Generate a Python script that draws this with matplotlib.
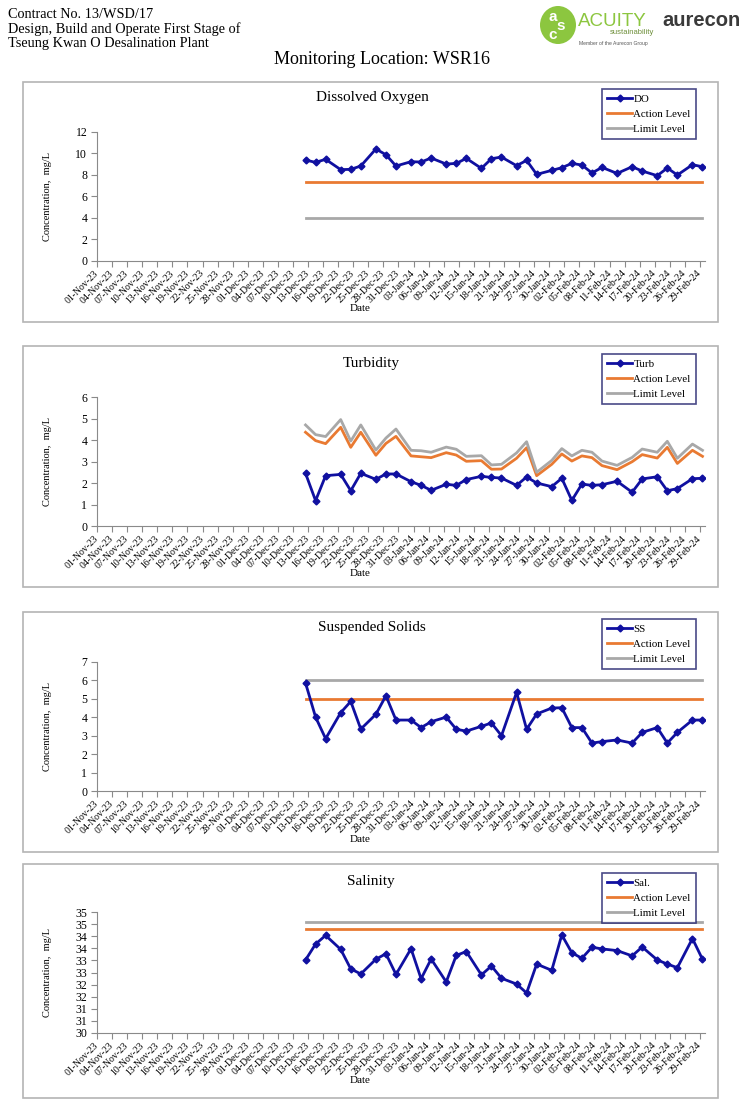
import numpy as np
import pandas as pd
import matplotlib
matplotlib.use("Agg")
import matplotlib.pyplot as plt
from matplotlib.patches import Rectangle, Ellipse

plt.rcParams['font.family'] = ['Liberation Serif', 'DejaVu Serif']

# ---------------------------------------------------------------- data
sample_dates = [
    "2023-12-12", "2023-12-14", "2023-12-16", "2023-12-19", "2023-12-21", "2023-12-23",
    "2023-12-26", "2023-12-28", "2023-12-30",
    "2024-01-02", "2024-01-04", "2024-01-06", "2024-01-09", "2024-01-11", "2024-01-13",
    "2024-01-16", "2024-01-18", "2024-01-20", "2024-01-23", "2024-01-25", "2024-01-27",
    "2024-01-30",
    "2024-02-01", "2024-02-03", "2024-02-05", "2024-02-07", "2024-02-09", "2024-02-12",
    "2024-02-15", "2024-02-17", "2024-02-20", "2024-02-22", "2024-02-24", "2024-02-27",
    "2024-02-29",
]

do_vals = [9.36, 9.15, 9.43, 8.47, 8.50, 8.81, 10.39, 9.86, 8.81, 9.21, 9.18, 9.55,
           8.99, 9.05, 9.52, 8.59, 9.49, 9.64, 8.84, 9.33, 8.03, 8.40, 8.65, 9.05,
           8.90, 8.16, 8.68, 8.12, 8.74, 8.34, 7.91, 8.62, 7.97, 8.93, 8.74]
do_action = 7.3
do_limit = 4.0

turb_vals = [2.45, 1.18, 2.34, 2.40, 1.64, 2.45, 2.17, 2.42, 2.42, 2.06, 1.89, 1.66,
             1.94, 1.89, 2.16, 2.31, 2.26, 2.23, 1.89, 2.28, 2.00, 1.83, 2.22, 1.19,
             1.95, 1.89, 1.92, 2.08, 1.57, 2.19, 2.29, 1.64, 1.74, 2.20, 2.22]
turb_action = [4.36, 3.97, 3.83, 4.59, 3.66, 4.36, 3.29, 3.84, 4.17, 3.26, 3.22, 3.18,
               3.41, 3.30, 3.01, 3.04, 2.64, 2.65, 3.15, 3.64, 2.34, 2.87, 3.35, 3.02,
               3.26, 3.18, 2.81, 2.62, 2.99, 3.32, 3.16, 3.66, 2.91, 3.52, 3.24]
turb_limit = [4.70, 4.25, 4.16, 4.95, 3.95, 4.70, 3.53, 4.09, 4.51, 3.52, 3.50, 3.43,
              3.67, 3.57, 3.24, 3.27, 2.84, 2.87, 3.40, 3.92, 2.50, 3.05, 3.60, 3.26,
              3.52, 3.43, 3.02, 2.82, 3.19, 3.58, 3.43, 3.94, 3.15, 3.81, 3.52]

ss_vals = [5.86, 4.01, 2.84, 4.25, 4.86, 3.36, 4.16, 5.17, 3.85, 3.85, 3.44, 3.76,
           4.01, 3.35, 3.25, 3.51, 3.69, 3.00, 5.35, 3.35, 4.18, 4.50, 4.52, 3.44,
           3.44, 2.60, 2.68, 2.77, 2.60, 3.18, 3.44, 2.60, 3.18, 3.85, 3.85]
ss_action = 5.0
ss_limit = 6.0

sal_vals = [33.02, 33.68, 34.04, 33.46, 32.65, 32.44, 33.05, 33.28, 32.42, 33.49, 32.24, 33.06,
            32.11, 33.21, 33.37, 32.40, 32.77, 32.26, 32.02, 31.65, 32.85, 32.59, 34.06, 33.32,
            33.09, 33.55, 33.48, 33.41, 33.19, 33.56, 33.02, 32.85, 32.70, 33.91, 33.05]
sal_action = 34.3
sal_limit = 34.6

axis_start = pd.Timestamp("2023-11-01")
axis_end = pd.Timestamp("2024-02-29")
tick_dates = pd.date_range(axis_start, axis_end, freq="3D")

# ---------------------------------------------------------------- layout
W, H = 756, 1103
fig = plt.figure(figsize=(W / 100, H / 100), dpi=100)

BLUE = "#1010A0"
ORANGE = "#E97A32"
GREY = "#A8A8A8"
NAVY = "#1C1C6A"


def fx(x):
    return x / W


def fy(y):
    return 1 - y / H


def px_axes(x0, y0, x1, y1):
    return fig.add_axes([fx(x0), fy(y1), (x1 - x0) / W, (y1 - y0) / H])


x_data = (pd.to_datetime(sample_dates) - axis_start).days.values + 0.5
x_ticks = (tick_dates - axis_start).days.values
x_ticklabels = tick_dates.strftime("%d-%b-%y")


def level(v):
    return np.full(len(x_data), v) if np.isscalar(v) else np.asarray(v)


def panel(border, box, title, title_xy, leg_xy, name, vals, action, limit,
          yticks, ylabels=None):
    bx0, by0, bx1, by1 = border
    fig.patches.append(Rectangle((fx(bx0), fy(by1)), (bx1 - bx0) / W, (by1 - by0) / H,
                                 transform=fig.transFigure, fill=False,
                                 edgecolor="#B4B4B4", lw=1.2))
    ax = px_axes(*box)
    ax.plot(x_data, vals, "-", color=BLUE, lw=2, marker="D", ms=3.5,
            mfc=BLUE, mec=BLUE, label=name, zorder=4)
    ax.plot(x_data, level(action), "-", color=ORANGE, lw=2, label="Action Level")
    ax.plot(x_data, level(limit), "-", color=GREY, lw=2, label="Limit Level")
    ax.set_xlim(0, x_ticks[-1] + 1)
    ax.set_ylim(yticks[0], yticks[-1])
    ax.set_xticks(x_ticks)
    ax.set_xticklabels(x_ticklabels, rotation=45, ha="right", va="center",
                       rotation_mode="anchor", fontsize=7)
    ax.set_yticks(yticks)
    if ylabels is not None:
        ax.set_yticklabels(ylabels)
    ax.tick_params(axis="both", direction="out", length=4, width=0.8,
                   color="#8A8A8A")
    ax.tick_params(axis="y", labelsize=8.5, pad=3)
    ax.tick_params(axis="x", labelsize=7, pad=4)
    for s in ("top", "right"):
        ax.spines[s].set_visible(False)
    for s in ("left", "bottom"):
        ax.spines[s].set_color("#8A8A8A")
        ax.spines[s].set_linewidth(0.8)
    ax.patch.set_alpha(0)

    fig.text(fx(title_xy[0]), fy(title_xy[1]), title, ha="center", va="center",
             fontsize=11)
    fig.text(fx(48), fy((box[1] + box[3]) / 2), "Concentration,  mg/L", rotation=90,
             ha="center", va="center", fontsize=7.5)
    fig.text(fx(360), fy(box[3] + 48), "Date", ha="center", va="center", fontsize=8)

    leg = ax.legend(loc="upper left", bbox_to_anchor=(fx(leg_xy[0]), fy(leg_xy[1])),
                    bbox_transform=fig.transFigure, fontsize=7.8, frameon=True,
                    fancybox=False, borderpad=0.5, labelspacing=0.5,
                    handlelength=2.3, handletextpad=0.1, borderaxespad=0,
                    numpoints=1)
    fr = leg.get_frame()
    fr.set_edgecolor(NAVY)
    fr.set_linewidth(1.2)
    return ax


panel((23, 82, 718, 322), (97, 131.7, 705, 260.7), "Dissolved Oxygen", (372, 97),
      (602, 89), "DO", do_vals, do_action, do_limit, np.arange(0, 13, 2))

panel((23, 346, 718, 587), (97, 397, 705, 526), "Turbidity", (371, 363),
      (602, 354), "Turb", turb_vals, turb_action, turb_limit, np.arange(0, 7, 1))

panel((23, 612, 718, 852), (97, 662, 705, 791), "Suspended Solids", (372, 628),
      (602, 619), "SS", ss_vals, ss_action, ss_limit, np.arange(0, 8, 1))

sal_ticks = np.arange(30, 35.01, 0.5)
panel((23, 864, 718, 1098), (97, 912.3, 705, 1032.7), "Salinity", (371, 882),
      (602, 873), "Sal.", sal_vals, sal_action, sal_limit, sal_ticks,
      [str(int(np.floor(v + 0.5))) for v in sal_ticks])

# ---------------------------------------------------------------- header
for i, line in enumerate(["Contract No. 13/WSD/17",
                          "Design, Build and Operate First Stage of",
                          "Tseung Kwan O Desalination Plant"]):
    fig.text(fx(8), fy(14 + 15 * i), line, ha="left", va="center", fontsize=10.3)

fig.text(fx(382), fy(60), "Monitoring Location: WSR16", ha="center", va="center",
         fontsize=13)

# logos drawn as shapes + text
fig.patches.append(Ellipse((fx(558), fy(25)), 36 / W, 38 / H, transform=fig.transFigure,
                           facecolor="#8CC63F", edgecolor="none"))
for ch, (cx, cy) in zip("asc", [(553, 17), (561, 26), (553, 35)]):
    fig.text(fx(cx), fy(cy), ch, color="white", fontsize=11, fontweight="bold",
             family="Liberation Sans", ha="center", va="center")
fig.text(fx(578), fy(21), "ACUITY", color="#8CC63F", fontsize=13.5,
         family="Liberation Sans", ha="left", va="center")
fig.text(fx(654), fy(33), "sustainability", color="#6E8F3A", fontsize=5.5,
         family="Liberation Sans", ha="right", va="center")
fig.text(fx(613), fy(44), "Member of the Aurecon Group", color="#555555", fontsize=3.6,
         family="Liberation Sans", ha="center", va="center")
fig.text(fx(662), fy(20), "aurecon", color="#3A3A3A", fontsize=14.5,
         fontweight="bold", family="Liberation Sans", ha="left", va="center")

fig.savefig("out.png", dpi=100)
